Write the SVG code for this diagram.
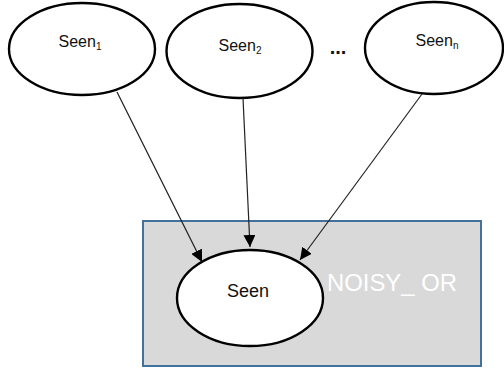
<svg xmlns="http://www.w3.org/2000/svg" width="504" height="371" viewBox="0 0 504 371">
<style>
.node{fill:#fff;stroke:#000;stroke-width:2.4}
.lbl{font-family:"Liberation Sans",Arial,sans-serif;font-size:16px;fill:#111;text-anchor:middle}
.sub{font-size:10px}
.edge{stroke:#222;stroke-width:1.2;fill:none;marker-end:url(#arr)}
</style>
<defs>
<marker id="arr" viewBox="0 0 12 12" refX="12" refY="6" markerWidth="12" markerHeight="12" markerUnits="userSpaceOnUse" orient="auto">
<path d="M0,0 L12,6 L0,12 Z" fill="#000"/>
</marker>
</defs>
<rect width="504" height="371" fill="#fff"/>
<g id="noisy_or">
<rect x="143" y="221" width="338" height="145" fill="#d9d9d9" stroke="#41719c" stroke-width="2"/>
<text x="327" y="291" font-family="'Liberation Sans',Arial,sans-serif" font-size="23" fill="#fff" textLength="130" lengthAdjust="spacingAndGlyphs">NOISY_ OR</text>
</g>
<g id="seen1">
<ellipse class="node" cx="82" cy="49" rx="73" ry="46"/>
<text class="lbl" x="80" y="47">Seen<tspan class="sub" dy="3">1</tspan></text>
</g>
<g id="seen2">
<ellipse class="node" cx="239.5" cy="51" rx="73" ry="47"/>
<text class="lbl" x="240" y="51">Seen<tspan class="sub" dy="3">2</tspan></text>
</g>
<text x="338" y="54" font-family="'Liberation Sans',Arial,sans-serif" font-size="20" font-weight="bold" text-anchor="middle" fill="#111">...</text>
<g id="seenn">
<ellipse class="node" cx="434" cy="48" rx="69" ry="46"/>
<text class="lbl" x="437" y="46">Seen<tspan class="sub" dy="3">n</tspan></text>
</g>
<g id="seen">
<ellipse class="node" cx="250" cy="298" rx="73" ry="48"/>
<text class="lbl" x="248" y="297" style="font-size:18px">Seen</text>
</g>
<g id="connectors">
<line class="edge" x1="117" y1="92" x2="202" y2="262"/>
<line class="edge" x1="243" y1="98" x2="250" y2="247"/>
<line class="edge" x1="422" y1="94" x2="300" y2="260"/>
</g>
</svg>
